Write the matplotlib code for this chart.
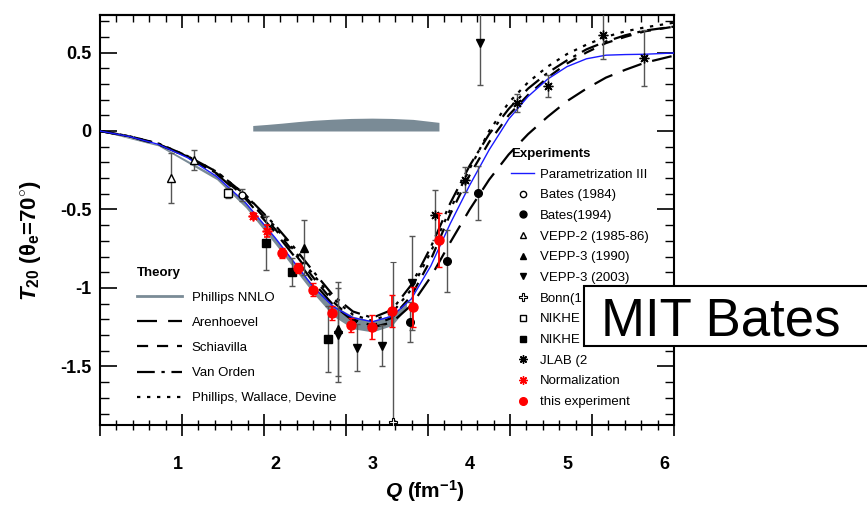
import matplotlib
matplotlib.use("Agg")
import matplotlib.pyplot as plt
from matplotlib.lines import Line2D
from matplotlib.patches import Rectangle
import numpy as np

plt.rcParams['font.family'] = ['Liberation Sans', 'DejaVu Sans']
plt.rcParams['mathtext.fontset'] = 'custom'
plt.rcParams['mathtext.rm'] = 'Liberation Sans:bold'
plt.rcParams['mathtext.it'] = 'Liberation Sans:bold:italic'
plt.rcParams['mathtext.bf'] = 'Liberation Sans:bold'

# theory curves (Q in fm^-1)
q_th = [0.2, 0.5, 0.8, 1.1, 1.4, 1.7, 2.0, 2.2, 2.4, 2.6, 2.8, 3.0, 3.2, 3.4,
        3.6, 3.8, 4.0, 4.2, 4.4, 4.6, 4.8, 5.0, 5.2, 5.4, 5.6, 5.8, 6.1]
t_param3 = [0, -0.035, -0.085, -0.17, -0.29, -0.46, -0.68, -0.84, -1.00, -1.12, -1.19, -1.215, -1.18, -1.07,
            -0.86, -0.59, -0.345, -0.12, 0.075, 0.22, 0.33, 0.41, 0.46, 0.483, 0.487, 0.489, 0.497]
t_arenh = [0, -0.035, -0.085, -0.165, -0.275, -0.435, -0.645, -0.80, -0.97, -1.11, -1.21, -1.25, -1.22, -1.11,
           -0.93, -0.71, -0.50, -0.31, -0.15, -0.02, 0.09, 0.19, 0.27, 0.34, 0.39, 0.435, 0.48]
t_schiav = [0, -0.035, -0.083, -0.163, -0.27, -0.425, -0.625, -0.78, -0.94, -1.09, -1.20, -1.24, -1.19, -1.05,
            -0.82, -0.53, -0.28, -0.07, 0.10, 0.23, 0.34, 0.43, 0.50, 0.56, 0.60, 0.635, 0.665]
t_vanorden = [0, -0.033, -0.08, -0.16, -0.26, -0.41, -0.60, -0.745, -0.90, -1.05, -1.15, -1.19, -1.14, -0.98,
              -0.74, -0.46, -0.22, -0.02, 0.14, 0.27, 0.37, 0.45, 0.52, 0.57, 0.61, 0.64, 0.665]
t_pwd = [0, -0.033, -0.08, -0.16, -0.26, -0.41, -0.61, -0.765, -0.92, -1.07, -1.17, -1.21, -1.16, -1.01,
         -0.77, -0.50, -0.24, 0.00, 0.18, 0.31, 0.41, 0.49, 0.55, 0.60, 0.635, 0.66, 0.69]

# Phillips NNLO band
q_nnlo = [0.2, 0.8, 1.4, 1.7, 2.0, 2.2, 2.4, 2.6, 2.8, 3.0, 3.2, 3.35]
nnlo_hi = [0, -0.085, -0.29, -0.46, -0.68, -0.84, -0.99, -1.11, -1.18, -1.21, -1.17, -1.09]
nnlo_lo = [0, -0.095, -0.31, -0.49, -0.72, -0.88, -1.04, -1.18, -1.26, -1.28, -1.24, -1.13]

# this experiment
q_this = [2.07, 2.235, 2.39, 2.585, 2.78, 2.996, 3.20, 3.417, 3.684]
t_this = [-0.777, -0.873, -1.01, -1.159, -1.236, -1.248, -1.146, -1.121, -0.694]
e_this = [0.03, 0.03, 0.04, 0.045, 0.045, 0.075, 0.10, 0.13, 0.17]
q_norm = [1.77, 1.92]
t_norm = [-0.541, -0.637]
e_norm = [0.02, 0.04]
q_sys = [1.77, 1.92, 2.07, 2.235, 2.39, 2.585, 2.78, 2.996, 3.20, 3.417, 3.684]
t_sys = [0.035, 0.042, 0.05, 0.06, 0.068, 0.075, 0.08, 0.082, 0.08, 0.074, 0.055]

# other experiments
q_bates84, t_bates84, e_bates84 = [1.66], [-0.408], [0.04]
q_bates94, t_bates94, e_bates94 = [3.386, 3.767, 4.085], [-1.217, -0.828, -0.395], [0.13, 0.2, 0.17]
q_vepp2, t_vepp2, e_vepp2 = [0.93, 1.166], [-0.30, -0.185], [0.16, 0.065]
q_vepp90, t_vepp90, e_vepp90 = [2.297, 2.646], [-0.745, -1.26], [0.175, 0.3]
q_vepp03 = [2.65, 2.84, 3.10, 3.407, 4.106]
t_vepp03 = [-1.30, -1.382, -1.369, -0.968, 0.56]
e_vepp03 = [0.3, 0.15, 0.13, 0.30, 0.27]
q_bonn, t_bonn, e_bonn = [3.21], [-1.853], [1.02]
q_nikA, t_nikA, e_nikA = [1.516], [-0.395], [0.03]
q_nikB, t_nikB, e_nikB = [1.906, 2.17, 2.543], [-0.713, -0.898, -1.325], [0.17, 0.09, 0.21]
q_jlab = [3.643, 3.95, 4.486, 4.805, 5.37, 5.79]
t_jlab = [-0.535, -0.31, 0.178, 0.287, 0.611, 0.465]
e_jlab = [0.16, 0.08, 0.055, 0.07, 0.15, 0.18]

W, H = 867, 511
fig = plt.figure(figsize=(W / 100, H / 100), dpi=100)
ax = fig.add_axes([100 / W, 1 - 425 / H, 574 / W, 410 / H])
x0, x1 = 0.2, 6.1
ax.set_xlim(x0, x1)
ax.set_ylim(-1.873, 0.739)

ax.fill_between(q_sys, 0, t_sys, color='#7a8b96', lw=0, zorder=1)
ax.fill_between(q_nnlo, nnlo_lo, nnlo_hi, color='#7a8b96', lw=0, zorder=2)
ln_nnlo = Line2D([], [], color='#7a8b96', lw=2)

ln_ar, = ax.plot(q_th, t_arenh, color='k', lw=1.6, dashes=(9, 5), zorder=3)
ln_sc, = ax.plot(q_th, t_schiav, color='k', lw=1.6, dashes=(5, 4), zorder=3)
ln_vo, = ax.plot(q_th, t_vanorden, color='k', lw=1.6, dashes=(8, 3, 1.5, 3), zorder=3)
ln_pw, = ax.plot(q_th, t_pwd, color='k', lw=1.6, dashes=(1.5, 3), zorder=3)
ln_p3, = ax.plot(q_th, t_param3, color='#1a1aff', lw=1.0, zorder=4)

eb = dict(ls='none', ecolor='#555555', elinewidth=1, capsize=2.5, zorder=5)
ax.errorbar(q_bates84, t_bates84, e_bates84, marker='o', ms=5, mfc='white', mec='k', **eb)
ax.errorbar(q_bates94, t_bates94, e_bates94, marker='o', ms=5.5, color='k', **eb)
ax.errorbar(q_vepp2, t_vepp2, e_vepp2, marker='^', ms=6, mfc='white', mec='k', **eb)
ax.errorbar(q_vepp90, t_vepp90, e_vepp90, marker='^', ms=5.5, color='k', **eb)
ax.errorbar(q_vepp03, t_vepp03, e_vepp03, marker='v', ms=5.5, color='k', **eb)
ax.errorbar(q_bonn, t_bonn, e_bonn, marker='P', ms=6, mfc='white', mec='k', mew=0.8, **eb)
ax.errorbar(q_nikA, t_nikA, e_nikA, marker='s', ms=5.5, mfc='white', mec='k', **eb)
ax.errorbar(q_nikB, t_nikB, e_nikB, marker='s', ms=5.5, color='k', **eb)
ax.errorbar(q_jlab, t_jlab, e_jlab, marker=(8, 2, 0), ms=7, color='k', mew=1, **eb)
ebr = dict(ls='none', ecolor='red', elinewidth=1.3, capsize=2.5, zorder=6)
ax.errorbar(q_norm, t_norm, e_norm, marker=(8, 2, 0), ms=7, color='red', mew=1.2, **ebr)
ax.errorbar(q_this, t_this, e_this, marker='o', ms=6.5, color='red', **ebr)

# ticks: visible marks are not at the labelled values
maj = [x0 + k * (x1 - x0) / 7 for k in range(8)]
mnr = [x0 + k * (x1 - x0) / 35 for k in range(36)]
ax.set_xticks(maj, [''] * len(maj))
ax.set_xticks(mnr, minor=True)
ax.tick_params(axis='x', which='major', direction='inout', length=16, width=1.2, top=False)
ax.tick_params(axis='x', which='minor', direction='inout', length=7, width=1, top=False)
top = ax.secondary_xaxis('top')
top.set_xticks(maj, [''] * len(maj))
top.set_xticks(mnr, minor=True)
top.tick_params(which='major', direction='in', length=9, width=1.2)
top.tick_params(which='minor', direction='in', length=5, width=1)
top.spines['top'].set_linewidth(1.5)
lab = ax.secondary_xaxis('bottom')
lab.set_xticks([1, 2, 3, 4, 5, 6], ['1', '2', '3', '4', '5', '6'])
lab.tick_params(length=0, pad=22, labelsize=13)
lab.spines['bottom'].set_visible(False)
for t in lab.get_xticklabels():
    t.set_fontweight('bold')

ax.set_yticks([-1.5, -1, -0.5, 0, 0.5], ['-1.5', '-1', '-0.5', '0', '0.5'])
ax.set_yticks(np.arange(-1.8, 0.75, 0.1), minor=True)
ax.tick_params(axis='y', which='major', direction='in', length=12, width=1.2, right=True, labelsize=13, pad=6)
ax.tick_params(axis='y', which='minor', direction='in', length=6.5, width=1, right=True)
for t in ax.get_yticklabels():
    t.set_fontweight('bold')
for s in ax.spines.values():
    s.set_linewidth(1.5)

ax.set_xlabel(r'$\mathit{Q}$ (fm$^{-1}$)', fontsize=15, fontweight='bold')
ax.xaxis.set_label_coords(0.566, -0.13)
ax.set_ylabel(r'$\mathit{T}_{20}$ ($\mathrm{\theta}_{\mathrm{e}}$=70$^{\circ}$)', fontsize=16, fontweight='bold')
ax.yaxis.set_label_coords(-0.10, 0.45)

leg1 = ax.legend([ln_nnlo, ln_ar, ln_sc, ln_vo, ln_pw],
                 ['Phillips NNLO', 'Arenhoevel', 'Schiavilla', 'Van Orden', 'Phillips, Wallace, Devine'],
                 title='Theory', title_fontproperties={'weight': 'bold', 'size': 9.5}, alignment='left',
                 loc='upper left', bbox_to_anchor=(137 / W, 1 - 267 / H), bbox_transform=fig.transFigure,
                 frameon=False, fontsize=9.5, handlelength=3.4, handletextpad=0.75, labelspacing=0.97,
                 borderpad=0, borderaxespad=0)
ax.add_artist(leg1)

def mk(marker, **kw):
    return Line2D([], [], ls='none', marker=marker, **kw)

h2 = [ln_p3,
      mk('o', ms=4.5, mfc='white', mec='k'), mk('o', ms=5, color='k'),
      mk('^', ms=5, mfc='white', mec='k'), mk('^', ms=5, color='k'), mk('v', ms=5, color='k'),
      mk('P', ms=5.5, mfc='white', mec='k', mew=0.8), mk('s', ms=5, mfc='white', mec='k'),
      mk('s', ms=5, color='k'), mk((8, 2, 0), ms=6, color='k'), mk((8, 2, 0), ms=6, color='red'),
      mk('o', ms=5.5, color='red')]
l2 = ['Parametrization III', 'Bates (1984)', 'Bates(1994)', 'VEPP-2 (1985-86)', 'VEPP-3 (1990)',
      'VEPP-3 (2003)', 'Bonn(1', 'NIKHE', 'NIKHE', 'JLAB (2',
      'Normalization', 'this experiment']
ax.legend(h2, l2, title='Experiments', title_fontproperties={'weight': 'bold', 'size': 9.5},
          alignment='left', loc='upper left', bbox_to_anchor=(511 / W, 1 - 148 / H),
          bbox_transform=fig.transFigure, frameon=False, fontsize=9.5, handlelength=1.75,
          handletextpad=0.45, labelspacing=0.64, borderpad=0, borderaxespad=0)

# "MIT Bates" overlay box
fig.add_artist(Rectangle((584 / W, 1 - 346 / H), 300 / W, 60 / H, transform=fig.transFigure,
                         fc='white', ec='black', lw=1.5, zorder=10))
fig.text(601 / W, 1 - 321 / H, 'MIT Bates', fontsize=38, va='center', ha='left', zorder=11)

fig.savefig('out.png', dpi=100)
